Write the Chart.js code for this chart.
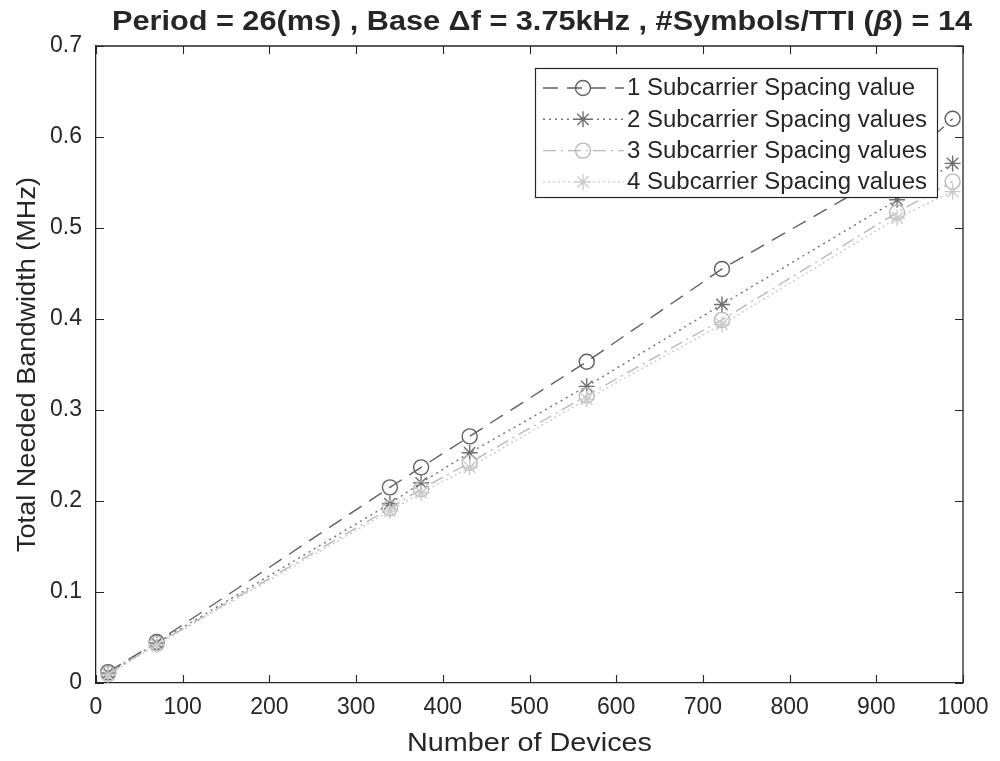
<!DOCTYPE html>
<html><head><meta charset="utf-8">
<script src="https://cdn.jsdelivr.net/npm/chart.js@4.4.1/dist/chart.umd.min.js"></script>
<style>html,body{margin:0;padding:0;background:#fff}#wrap{width:1000px;height:761px}</style>
</head><body><div id="wrap"><canvas id="c" width="1000" height="761"></canvas></div>
<script>
// ---- data ----
const devices = [14, 70, 339, 375, 431, 566, 722, 924, 988];
const bw1 = [0.012, 0.045, 0.215, 0.237, 0.271, 0.353, 0.455, 0.565, 0.620];
const bw2 = [0.011, 0.044, 0.197, 0.220, 0.253, 0.326, 0.416, 0.531, 0.571];
const bw3 = [0.010, 0.043, 0.192, 0.213, 0.242, 0.316, 0.399, 0.517, 0.551];
const bw4 = [0.009, 0.042, 0.189, 0.209, 0.237, 0.312, 0.394, 0.511, 0.540];
const seriesLabels = ['1 Subcarrier Spacing value', '2 Subcarrier Spacing values', '3 Subcarrier Spacing values', '4 Subcarrier Spacing values'];
const xTickLabels = ['0','100','200','300','400','500','600','700','800','900','1000'];
const yTickLabels = ['0','0.1','0.2','0.3','0.4','0.5','0.6','0.7'];
const titlePre = 'Period = 26(ms) , Base \u0394f = 3.75kHz , #Symbols/TTI (';
const titleBeta = '\u03B2';
const titlePost = ') = 14';
const xTitle = 'Number of Devices';
const yTitle = 'Total Needed Bandwidth (MHz)';

const FONT = 'Arial, "Liberation Sans", sans-serif';
const TXT = '#262626';

const styles = [
  {color:'#5f5f5f', dash:[15,9], point:'circle', r:7.5},
  {color:'#6f6f6f', dash:[2,4], point:'star', r:8},
  {color:'#b8b8b8', dash:[13,5,2,5], point:'circle', r:7.5},
  {color:'#cacaca', dash:[2,3], point:'star', r:8}
];
const series = [bw1, bw2, bw3, bw4];

const datasets = series.map((vals, i) => ({
  label: seriesLabels[i],
  data: devices.map((d, k) => ({x: d, y: vals[k]})),
  borderColor: styles[i].color,
  backgroundColor: 'rgba(0,0,0,0)',
  pointBorderColor: styles[i].color,
  pointBackgroundColor: 'rgba(0,0,0,0)',
  borderWidth: 1.4,
  pointBorderWidth: 1.4,
  borderDash: styles[i].dash,
  pointStyle: styles[i].point,
  pointRadius: styles[i].r,
  tension: 0,
  clip: false,
  order: 3 - i
}));

function stretchText(ctx, text, x, y, targetW, align) {
  const w = ctx.measureText(text).width;
  const s = targetW ? targetW / w : 1;
  ctx.save();
  ctx.translate(x, y);
  ctx.scale(s, 1);
  ctx.textAlign = align || 'left';
  ctx.fillText(text, 0, 0);
  ctx.restore();
  return w * s;
}

const decor = {
  id: 'decor',
  afterDatasetsDraw(chart) {
    const ctx = chart.ctx;
    const a = chart.chartArea;
    const xs = chart.scales.x, ys = chart.scales.y;
    ctx.save();
    // box top & right
    ctx.strokeStyle = TXT; ctx.lineWidth = 1.3; ctx.setLineDash([]);
    ctx.beginPath();
    ctx.moveTo(a.left, a.top); ctx.lineTo(a.right, a.top); ctx.lineTo(a.right, a.bottom);
    ctx.stroke();
    // inward ticks
    const TL = 8;
    ctx.lineWidth = 1.1;
    ctx.beginPath();
    xs.ticks.forEach(t => {
      const px = Math.round(xs.getPixelForValue(t.value)) + 0.5;
      ctx.moveTo(px, a.bottom); ctx.lineTo(px, a.bottom - TL);
      ctx.moveTo(px, a.top); ctx.lineTo(px, a.top + TL);
    });
    ys.ticks.forEach(t => {
      const py = Math.round(ys.getPixelForValue(t.value)) + 0.5;
      ctx.moveTo(a.left, py); ctx.lineTo(a.left + TL, py);
      ctx.moveTo(a.right, py); ctx.lineTo(a.right - TL, py);
    });
    ctx.stroke();

    // legend
    const lx = 535, ly = 68, lw = 402, lh = 129;
    ctx.fillStyle = '#fff';
    ctx.fillRect(lx, ly, lw, lh);
    ctx.strokeStyle = TXT; ctx.lineWidth = 1.2;
    ctx.strokeRect(lx + 0.5, ly + 0.5, lw, lh);
    ctx.font = '23px ' + FONT;
    ctx.textBaseline = 'middle';
    const baseW = ctx.measureText(seriesLabels[0]).width;
    const sc = 288 / baseW;
    seriesLabels.forEach((lab, i) => {
      const y = 88 + i * 31.3;
      const st = styles[i];
      ctx.strokeStyle = st.color; ctx.lineWidth = 1.4;
      ctx.setLineDash(st.dash);
      ctx.beginPath(); ctx.moveTo(543, y); ctx.lineTo(624, y); ctx.stroke();
      ctx.setLineDash([]);
      ctx.save();
      ctx.fillStyle = 'rgba(0,0,0,0)';
      ctx.strokeStyle = st.color; ctx.lineWidth = 1.4;
      Chart.helpers.drawPoint(ctx, {pointStyle: st.point, radius: st.r, borderWidth: 1.4}, 583, y);
      ctx.restore();
      ctx.fillStyle = TXT;
      const w = ctx.measureText(lab).width;
      stretchText(ctx, lab, 627, y + 1, w * sc, 'left');
    });

    // title
    ctx.fillStyle = TXT;
    ctx.textBaseline = 'middle';
    const TF = 27;
    ctx.font = 'bold ' + TF + 'px ' + FONT;
    const w1 = ctx.measureText(titlePre).width;
    const w3 = ctx.measureText(titlePost).width;
    ctx.font = 'italic bold ' + TF + 'px ' + FONT;
    const w2 = ctx.measureText(titleBeta).width;
    const total = w1 + w2 + w3;
    const ts = 860 / total;
    ctx.save();
    ctx.translate(112, 23); ctx.scale(ts, 1);
    ctx.textAlign = 'left';
    ctx.font = 'bold ' + TF + 'px ' + FONT;
    ctx.fillText(titlePre, 0, 0);
    ctx.font = 'italic bold ' + TF + 'px ' + FONT;
    ctx.fillText(titleBeta, w1, 0);
    ctx.font = 'bold ' + TF + 'px ' + FONT;
    ctx.fillText(titlePost, w1 + w2, 0);
    ctx.restore();

    // axis titles
    ctx.font = '26px ' + FONT;
    ctx.fillStyle = TXT;
    stretchText(ctx, xTitle, (a.left + a.right) / 2, 744, 245, 'center');
    ctx.save();
    ctx.translate(28, (a.top + a.bottom) / 2);
    ctx.rotate(-Math.PI / 2);
    stretchText(ctx, yTitle, 0, 0, 375, 'center');
    ctx.restore();
    ctx.restore();
  }
};

new Chart(document.getElementById('c'), {
  type: 'line',
  data: {datasets},
  options: {
    responsive: false,
    animation: false,
    devicePixelRatio: 1,
    layout: {padding: {left: 0, right: 37, top: 46, bottom: 0}},
    plugins: {legend: {display: false}, title: {display: false}, tooltip: {enabled: false}},
    scales: {
      x: {
        type: 'linear', min: 0, max: 1000,
        ticks: {stepSize: 100, font: {family: FONT, size: 23}, color: TXT, padding: 11, maxRotation: 0,
          callback: (v, i) => xTickLabels[i]},
        grid: {display: false, drawTicks: false},
        border: {display: true, color: TXT, width: 1.3},
        afterFit(s) { s.height = 78; }
      },
      y: {
        type: 'linear', min: 0, max: 0.7,
        ticks: {stepSize: 0.1, font: {family: FONT, size: 23}, color: TXT, padding: 14,
          callback: (v, i) => yTickLabels[i]},
        grid: {display: false, drawTicks: false},
        border: {display: true, color: TXT, width: 1.3},
        afterFit(s) { s.width = 96; }
      }
    }
  },
  plugins: [decor]
});
</script>
</body></html>
